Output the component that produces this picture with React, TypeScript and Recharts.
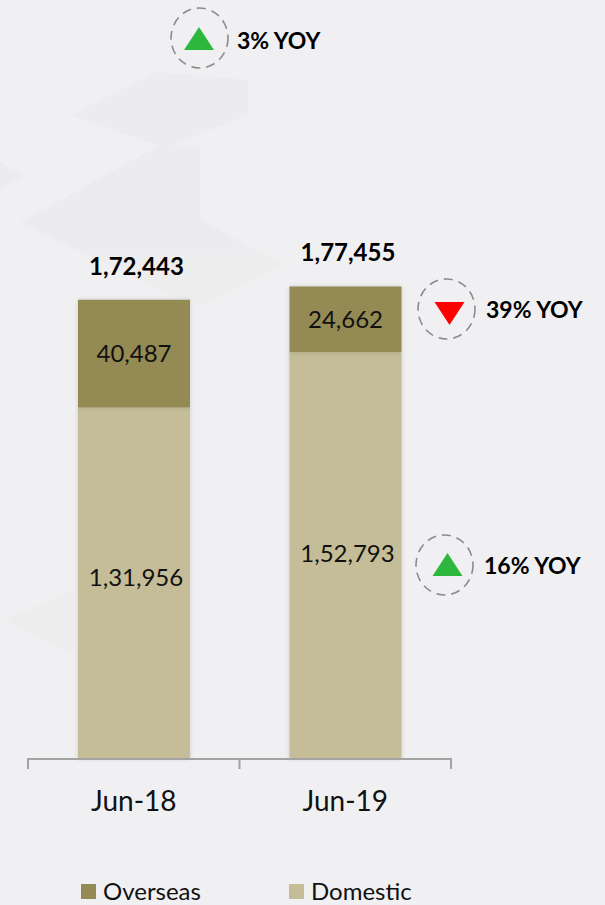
import React from 'react';
import { BarChart, Bar, XAxis, YAxis, LabelList, Legend } from 'recharts';

const categories = ['Jun-18', 'Jun-19'];
const domestic = [131956, 152793];
const overseas = [40487, 24662];
const totals = [172443, 177455];

const data = categories.map((name, i) => ({
  name,
  Domestic: domestic[i],
  Overseas: overseas[i],
  total: totals[i],
}));

const legendItems = [
  { name: 'Overseas', color: '#948a54' },
  { name: 'Domestic', color: '#c4bd97' },
];

const badges = [
  { cx: 199.5, cy: 38, triX: 199, triY: 39, up: true, label: '3% YOY', labelX: 237, labelY: 49 },
  { cx: 446.5, cy: 309, triX: 449.5, triY: 309, up: false, label: '39% YOY', labelX: 486, labelY: 318 },
  { cx: 444.5, cy: 565, triX: 447.5, triY: 565, up: true, label: '16% YOY', labelX: 484, labelY: 574 },
];

const FONT = 'Lato, "Open Sans", sans-serif';
const fmt = (v: number) => v.toLocaleString('en-IN');
const BAND = 211.5;

// bracket style ticks sit on the band edges, label in the middle
const BracketTick = ({ x, y, payload, index }: any) => (
  <g>
    <line x1={x - BAND / 2} x2={x - BAND / 2} y1={y - 9} y2={y + 2} stroke="#a3a3a3" strokeWidth={2} />
    {index === categories.length - 1 && (
      <line x1={x + BAND / 2} x2={x + BAND / 2} y1={y - 9} y2={y + 2} stroke="#a3a3a3" strokeWidth={2} />
    )}
    <text x={x} y={811} textAnchor="middle" fontSize={28} fontFamily={FONT} fill="#111">
      {payload.value}
    </text>
  </g>
);

const TotalLabel = ({ x, y, width, index }: any) => (
  <text x={x + width / 2 + 2.5} y={y - 25} textAnchor="middle" fontSize={24} fontWeight={700} fontFamily={FONT} fill="#000">
    {fmt(totals[index])}
  </text>
);

// the domestic labels sit a little above the middle of their segment in the original
const domesticNudge = [-7, -3];

const DomesticLabel = ({ x, y, width, height, index }: any) => (
  <text
    x={x + width / 2 + 2}
    y={y + height / 2 + domesticNudge[index]}
    textAnchor="middle"
    dominantBaseline="central"
    fontSize={24}
    fontFamily={FONT}
    fill="#111"
  >
    {fmt(domestic[index])}
  </text>
);

const LegendContent = () => (
  <div style={{ position: 'relative', height: 30, fontFamily: FONT, fontSize: 24, color: '#111' }}>
    {legendItems.map((item, i) => (
      <div key={item.name} style={{ position: 'absolute', left: 81 + i * 208, top: 0, display: 'flex', alignItems: 'center', lineHeight: '30px' }}>
        <span style={{ width: 15, height: 15, background: item.color, marginRight: 7, display: 'inline-block' }} />
        {item.name}
      </div>
    ))}
  </div>
);

export default function App() {
  return (
    <div style={{ position: 'fixed', left: 0, top: 0, width: 605, height: 905, background: '#f0f0f3', overflow: 'hidden' }}>
      <svg width={605} height={905} style={{ position: 'absolute', left: 0, top: 0 }}>
        <g fill="#e8e8e8" opacity={0.45}>
          <polygon points="70,115 155,72 248,80 248,115 165,148" />
          <polygon points="20,222 160,145 200,145 200,220 285,265 200,305 160,290" />
          <polygon points="0,162 25,176 0,188" />
          <polygon points="5,620 75,590 75,655" />
        </g>
      </svg>

      <div style={{ position: 'absolute', left: 0, top: 0 }}>
        <BarChart width={605} height={905} data={data} margin={{ top: 0, right: 154, bottom: 0, left: 28 }}>
          <YAxis hide domain={[0, 285000]} />
          <XAxis
            dataKey="name"
            height={116}
            axisLine={{ stroke: '#a3a3a3', strokeWidth: 2 }}
            tickLine={false}
            tick={<BracketTick />}
            interval={0}
          />
          <Legend verticalAlign="bottom" content={<LegendContent />} wrapperStyle={{ left: 0, bottom: -1, width: 605 }} />
          <Bar dataKey="Domestic" stackId="a" barSize={112} fill="#c4bd97" isAnimationActive={false} style={{ filter: 'drop-shadow(0 0 2px rgba(0,0,0,0.15))' }}>
            <LabelList dataKey="Domestic" content={<DomesticLabel />} />
          </Bar>
          <Bar dataKey="Overseas" stackId="a" barSize={112} fill="#948a54" isAnimationActive={false} style={{ filter: 'drop-shadow(0 0 2px rgba(0,0,0,0.15))' }}>
            <LabelList dataKey="Overseas" position="center" formatter={fmt as any} fontSize={24} fontFamily={FONT} fill="#111" />
            <LabelList dataKey="total" content={<TotalLabel />} />
          </Bar>
        </BarChart>
      </div>

      <svg width={605} height={905} style={{ position: 'absolute', left: 0, top: 0, pointerEvents: 'none' }}>
        {badges.map(b => (
          <g key={b.label}>
            <ellipse cx={b.cx} cy={b.cy} rx={28.5} ry={30} fill="none" stroke="#8c8c8c" strokeWidth={1.6} strokeDasharray="9 6" />
            <polygon
              points={
                b.up
                  ? `${b.triX - 15},${b.triY + 11} ${b.triX},${b.triY - 12} ${b.triX + 15},${b.triY + 11}`
                  : `${b.triX - 15},${b.triY - 7} ${b.triX + 15},${b.triY - 7} ${b.triX},${b.triY + 16}`
              }
              fill={b.up ? '#2db83d' : '#ff0000'}
            />
            <text x={b.labelX} y={b.labelY} fontSize={23} fontWeight={700} fontFamily={FONT} fill="#000">
              {b.label}
            </text>
          </g>
        ))}
      </svg>
    </div>
  );
}
